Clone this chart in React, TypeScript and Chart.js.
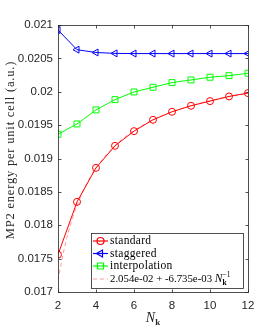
import React, { useEffect, useRef } from "react";
import { Chart, registerables } from "chart.js";

Chart.register(...registerables);

const nk = [2, 3, 4, 5, 6, 7, 8, 9, 10, 11, 12];
const standard = [0.01756, 0.01835, 0.01886, 0.01919, 0.01941, 0.01958, 0.0197, 0.01979, 0.01986, 0.01993, 0.01998];
const staggered = [0.020925, 0.02063, 0.020588, 0.020575, 0.020572, 0.020572, 0.020572, 0.020572, 0.020572, 0.020572, 0.020572];
const interpolation = [0.019363, 0.019518, 0.019728, 0.019882, 0.019997, 0.020067, 0.020137, 0.020177, 0.020217, 0.020241, 0.020277];
const fitN = [2, 2.25, 2.5, 2.75, 3, 3.5, 4, 5, 6, 7, 8, 9, 10, 11, 12];
const fitE = [0.017173, 0.017547, 0.017846, 0.018091, 0.018295, 0.018616, 0.018856, 0.019193, 0.019418, 0.019578, 0.019698, 0.019792, 0.019867, 0.019928, 0.019979];
const xTicks = [2, 4, 6, 8, 10, 12];
const yTicks = [0.017, 0.0175, 0.018, 0.0185, 0.019, 0.0195, 0.02, 0.0205, 0.021];
const legendLabels = ["standard", "staggered", "interpolation"];
const fitLabel = "2.054e-02 + -6.735e-03 ";
const yTitle = "MP2 energy per unit cell (a.u.)";

const AX = "#262626";
const SERIF = "'Liberation Serif', 'DejaVu Serif', serif";
const SANS = "'Liberation Sans', Arial, sans-serif";

function marker(ctx: CanvasRenderingContext2D, kind: string, x: number, y: number, color: string) {
  ctx.save();
  ctx.strokeStyle = color;
  ctx.lineWidth = 1.2;
  ctx.beginPath();
  if (kind === "circle") {
    ctx.arc(x, y, 3.5, 0, Math.PI * 2);
  } else if (kind === "tri") {
    ctx.moveTo(x - 4, y);
    ctx.lineTo(x + 2, y - 3.5);
    ctx.lineTo(x + 2, y + 3.5);
    ctx.closePath();
  } else {
    ctx.rect(x - 3, y - 3, 6, 6);
  }
  ctx.stroke();
  ctx.restore();
}

const decor = {
  id: "decor",
  afterDraw(chart: any) {
    const ctx: any = chart.ctx;
    const ca = chart.chartArea;
    const xs = chart.scales.x;
    const ys = chart.scales.y;
    ctx.save();
    // frame
    ctx.strokeStyle = AX;
    ctx.lineWidth = 0.8;
    const l = Math.round(ca.left) + 0.5, r = Math.round(ca.right) + 0.5;
    const t = Math.round(ca.top) + 0.5, b = Math.round(ca.bottom) + 0.5;
    ctx.strokeRect(l, t, r - l, b - t);
    ctx.beginPath();
    xTicks.forEach((v) => {
      const px = Math.round(xs.getPixelForValue(v)) + 0.5;
      ctx.moveTo(px, b); ctx.lineTo(px, b - 3);
      ctx.moveTo(px, t); ctx.lineTo(px, t + 3);
    });
    yTicks.forEach((v) => {
      const py = Math.round(ys.getPixelForValue(v)) + 0.5;
      ctx.moveTo(l, py); ctx.lineTo(l + 3, py);
      ctx.moveTo(r, py); ctx.lineTo(r - 3, py);
    });
    ctx.stroke();

    // x title N_k
    const cx = (ca.left + ca.right) / 2;
    ctx.fillStyle = AX;
    ctx.textBaseline = "alphabetic";
    ctx.textAlign = "left";
    ctx.font = `italic 14px ${SERIF}`;
    const nw = ctx.measureText("N").width;
    ctx.font = `bold 9px ${SERIF}`;
    const kw = ctx.measureText("k").width;
    const sx = cx - (nw + kw) / 2;
    ctx.font = `italic 14px ${SERIF}`;
    ctx.fillText("N", sx, 322);
    ctx.font = `bold 9px ${SERIF}`;
    ctx.fillText("k", sx + nw, 325);

    // legend
    const lx0 = 91, ly0 = 233, lx1 = 243, ly1 = 288;
    ctx.fillStyle = "#fff";
    ctx.fillRect(lx0, ly0, lx1 - lx0, ly1 - ly0);
    ctx.strokeStyle = AX;
    ctx.lineWidth = 0.8;
    ctx.strokeRect(lx0 + 0.5, ly0 + 0.5, lx1 - lx0, ly1 - ly0);
    const rows = [241, 253.5, 266, 279];
    const cols = ["#ff0000", "#0000ff", "#00ff00"];
    const kinds = ["circle", "tri", "rect"];
    ctx.letterSpacing = "0.3px";
    for (let i = 0; i < 3; i++) {
      ctx.strokeStyle = cols[i];
      ctx.lineWidth = 1.2;
      ctx.beginPath();
      ctx.moveTo(93, rows[i]);
      ctx.lineTo(108, rows[i]);
      ctx.stroke();
      marker(ctx, kinds[i], 100.5, rows[i], cols[i]);
      ctx.fillStyle = "#000";
      ctx.font = `11.5px ${SERIF}`;
      ctx.textBaseline = "middle";
      ctx.fillText(legendLabels[i], 110, rows[i]);
    }
    ctx.letterSpacing = "0px";
    ctx.strokeStyle = "#ff9a9a";
    ctx.lineWidth = 1;
    ctx.setLineDash([4, 3]);
    ctx.beginPath();
    ctx.moveTo(93, rows[3]);
    ctx.lineTo(108, rows[3]);
    ctx.stroke();
    ctx.setLineDash([]);
    ctx.fillStyle = "#000";
    ctx.font = `10.8px ${SERIF}`;
    ctx.textBaseline = "middle";
    ctx.fillText(fitLabel, 110, rows[3]);
    let fx = 110 + ctx.measureText(fitLabel).width;
    ctx.font = `italic 11.5px ${SERIF}`;
    ctx.fillText("N", fx, rows[3]);
    fx += ctx.measureText("N").width;
    ctx.font = `bold 7.5px ${SERIF}`;
    ctx.fillText("k", fx, rows[3] + 4);
    ctx.font = `7.5px ${SERIF}`;
    ctx.fillText("\u22121", fx, rows[3] - 3.5);
    ctx.restore();
  },
};

export default function App() {
  const ref = useRef<HTMLCanvasElement | null>(null);
  useEffect(() => {
    if (!ref.current) return;
    const chart = new Chart(ref.current, {
      type: "line",
      data: {
        datasets: [
          {
            label: "standard",
            data: nk.map((x, i) => ({ x, y: standard[i] })),
            borderColor: "#ff0000",
            borderWidth: 1,
            pointStyle: "circle",
            pointRadius: 3.5,
            pointBorderColor: "#ff0000",
            pointBackgroundColor: "rgba(0,0,0,0)",
            pointBorderWidth: 1,
            order: 1,
          },
          {
            label: "staggered",
            data: nk.map((x, i) => ({ x, y: staggered[i] })),
            borderColor: "#0000ff",
            borderWidth: 1,
            pointStyle: "triangle",
            pointRotation: -90,
            pointRadius: 4,
            pointBorderColor: "#0000ff",
            pointBackgroundColor: "rgba(0,0,0,0)",
            pointBorderWidth: 1,
            order: 1,
          },
          {
            label: "interpolation",
            data: nk.map((x, i) => ({ x, y: interpolation[i] })),
            borderColor: "#00ff00",
            borderWidth: 1,
            pointStyle: "rect",
            pointRadius: 4.2,
            pointBorderColor: "#00ff00",
            pointBackgroundColor: "rgba(0,0,0,0)",
            pointBorderWidth: 1,
            order: 1,
          },
          {
            label: "fit",
            data: fitN.map((x, i) => ({ x, y: fitE[i] })),
            borderColor: "#ff9a9a",
            borderWidth: 1,
            borderDash: [4, 3],
            pointRadius: 0,
            cubicInterpolationMode: "monotone",
            order: 2,
          },
        ],
      },
      options: {
        animation: false,
        responsive: false,
        layout: { padding: { top: 25, right: 26, left: 0, bottom: 0 } },
        plugins: { legend: { display: false }, tooltip: { enabled: false } },
        scales: {
          x: {
            type: "linear",
            min: 2,
            max: 12,
            afterBuildTicks: (s: any) => { s.ticks = xTicks.map((v) => ({ value: v })); },
            afterFit: (s: any) => { s.height = 37; },
            grid: { display: false, drawTicks: false },
            border: { display: false },
            ticks: { color: AX, padding: 7, font: { family: SANS, size: 11.5 } },
          },
          y: {
            min: 0.017,
            max: 0.021,
            afterBuildTicks: (s: any) => { s.ticks = yTicks.map((v) => ({ value: v })); },
            afterFit: (s: any) => { s.width = 58; },
            grid: { display: false, drawTicks: false },
            border: { display: false },
            title: { display: false },
            ticks: {
              color: AX,
              padding: 5,
              font: { family: SANS, size: 11.5 },
              callback: (v: any) => String(Number(Number(v).toFixed(4))),
            },
          },
        },
      },
      plugins: [
        decor,
        {
          id: "ytitle",
          afterDraw(chart: any) {
            const ctx = chart.ctx;
            ctx.save();
            ctx.translate(11, 150);
            ctx.rotate(-Math.PI / 2);
            ctx.fillStyle = AX;
            ctx.letterSpacing = "0.8px";
            ctx.font = `12.5px ${SERIF}`;
            ctx.textAlign = "center";
            ctx.textBaseline = "middle";
            ctx.fillText(yTitle, 0, 0);
            ctx.restore();
          },
        },
      ],
    } as any);
    return () => chart.destroy();
  }, []);
  return (
    <div style={{ position: "fixed", left: 0, top: 0, width: 274, height: 329, background: "#fff" }}>
      <canvas ref={ref} width={274} height={329} style={{ width: 274, height: 329 }} />
    </div>
  );
}
